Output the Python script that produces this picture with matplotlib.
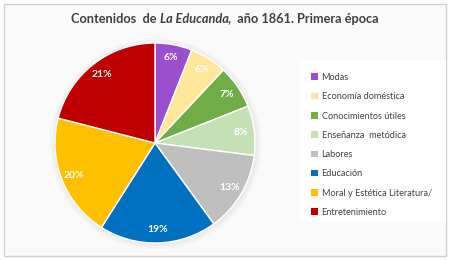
import matplotlib
matplotlib.use("Agg")
import matplotlib.pyplot as plt
from matplotlib.patches import Rectangle, Circle

categories = ["Modas", "Economía doméstica", "Conocimientos útiles", "Enseñanza  metódica",
              "Labores", "Educación", "Moral y Estética Literatura/", "Entretenimiento"]
values = [6, 6, 7, 8, 13, 19, 20, 21]
colors = ["#9B4FCC", "#FFE699", "#70AD47", "#C5E0B4", "#BFBFBF", "#0070C0", "#FFC000", "#C00000"]

W, H = 450, 260
fig = plt.figure(figsize=(W/100, H/100), dpi=100)
fig.patch.set_facecolor("white")

# frame
fig.patches.append(Rectangle((4/W, 4/H), 442/W, 252/H, transform=fig.transFigure,
                             fill=True, facecolor="#FAFAFA", edgecolor="#D0D0D0", lw=1.0, zorder=-5))

# title pieces
fam = "Lato"
y_t = 1 - 19/H
parts = [("Contenidos  de ", "normal"), ("La Educanda", "italic"), (",  año 1861. Primera época", "normal")]
fig.canvas.draw()
r = fig.canvas.get_renderer()
texts = []
for s, st in parts:
    t = fig.text(0, y_t, s, fontsize=9.2, fontweight="bold", style=st, family=fam,
                 color="#404040", va="center", ha="left")
    texts.append(t)
widths = [t.get_window_extent(renderer=r).width for t in texts]
total = sum(widths)
x = (W/2 - total/2)
for t, w in zip(texts, widths):
    t.set_x(x / W)
    x += w

# pie
cx, cy, rad = 155, 143, 100
ax = fig.add_axes([(cx-rad*1.06)/W, (H-cy-rad*1.06)/H, 2*rad*1.06/W, 2*rad*1.06/H])
ax.set_zorder(2)
ax.patch.set_visible(False)
for i, a in enumerate([0.05, 0.04, 0.03]):
    ax.add_patch(Circle((0.01, -0.01), 1.0 + 0.02*(i+1), color="#888888", alpha=a, lw=0, zorder=0))
wedges, _, autotexts = ax.pie(values, colors=colors, startangle=90, counterclock=False,
                              autopct="%d%%", pctdistance=0.87, radius=1.0,
                              wedgeprops=dict(edgecolor="white", linewidth=1.0),
                              textprops=dict(color="white", fontsize=7.5, fontweight="bold", family=fam))
for w in wedges:
    w.set_zorder(2)
for t in autotexts:
    t.set_zorder(3)
ax.set_aspect("equal")
ax.set_xlim(-1.06, 1.06)
ax.set_ylim(-1.06, 1.06)
ax.axis("off")

# legend
fig.patches.append(Rectangle((300/W, 1-222/H), 146/W, 162/H, transform=fig.transFigure,
                             fill=True, facecolor="white", edgecolor="none", zorder=-4))
leg = fig.legend(wedges, categories, loc="upper left", bbox_to_anchor=(311/W, 1-73/H),
                 frameon=False, prop=dict(family=fam, size=6.6),
                 handlelength=0.75, handleheight=0.75, handletextpad=0.4, labelspacing=1.12,
                 labelcolor="#404040", borderaxespad=0, borderpad=0)
for h in leg.legend_handles:
    h.set_edgecolor("none")

fig.savefig("out.png", dpi=100)
